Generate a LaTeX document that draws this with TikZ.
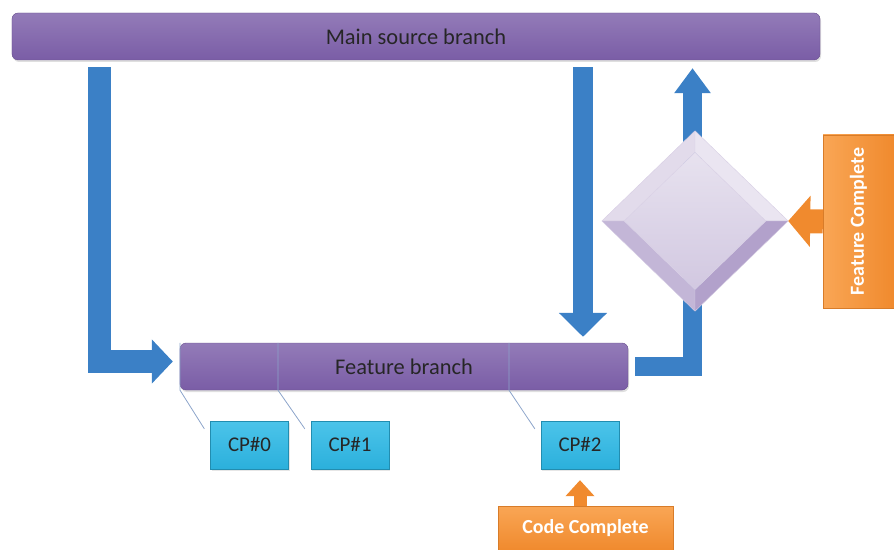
\documentclass[tikz,border=0pt]{standalone}
\usepackage{fontspec}
\setmainfont{Carlito}
\usetikzlibrary{arrows.meta,shapes.geometric,calc,shadows}

\definecolor{bartop}{HTML}{937BB8}
\definecolor{barbottom}{HTML}{7A5DA6}
\definecolor{flowblue}{HTML}{3B80C6}
\definecolor{cptop}{HTML}{4CC4EA}
\definecolor{cpbottom}{HTML}{2BB0DC}
\definecolor{notetop}{HTML}{F9A655}
\definecolor{notebottom}{HTML}{F08A2E}
\definecolor{leadercol}{HTML}{8CA4CA}

\begin{document}
\begin{tikzpicture}[x=1bp, y=-1bp,
  branchbar/.style={rounded corners=6bp, top color=bartop, bottom color=barbottom,
    draw=barbottom!85!black, line width=0.4bp, minimum height=47bp, inner sep=0pt,
    font=\fontsize{22.5}{26}\selectfont, text=black!85,
    drop shadow={opacity=0.25, shadow xshift=1bp, shadow yshift=-2bp}},
  cpbox/.style={top color=cptop, bottom color=cpbottom, draw=cpbottom!80!black, line width=0.3bp,
    minimum width=78bp, minimum height=48bp, inner sep=0pt,
    font=\fontsize{21}{24}\selectfont, text=black!85,
    drop shadow={opacity=0.2, shadow xshift=1bp, shadow yshift=-2bp}},
  notebox/.style={draw=notebottom!90!black, line width=0.3bp, inner sep=0pt,
    font=\bfseries\fontsize{20}{24}\selectfont, text=white},
  flowarrow/.style={draw=flowblue, line width=21bp, line join=miter},
  notearrow/.style={draw=notebottom, line width=#1, line join=miter},
  leader/.style={draw=leadercol, line width=0.8bp},
  bevel/.style={draw=white!70!barbottom, line width=0.4bp, line join=round}]
  \useasboundingbox (0,0) rectangle (894,550);

  % Branches
  \node[branchbar, minimum width=808bp] (main) at (416,36.5) {Main source branch};
  \node[branchbar, minimum width=448bp] (feat) at (404,366.5) {Feature branch};

  % Arrow columns
  \coordinate (xl) at (99.5,0);
  \coordinate (xm) at (583,0);
  \coordinate (xr) at (692.5,0);

  % Branch off, merge down, merge back up
  \draw[flowarrow, line width=23bp, shorten <=7bp, shorten >=7bp, -{Triangle[length=21bp, width=43bp]}]
    (main.south -| xl) |- ([yshift=5bp]feat.west);
  \draw[flowarrow, line width=20bp, shorten <=7bp, shorten >=6bp, -{Triangle[length=24bp, width=47bp]}]
    (main.south -| xm) -- (feat.north -| xm);
  \draw[flowarrow, line width=19bp, shorten <=7bp, shorten >=8bp, -{Triangle[length=25bp, width=35bp]}]
    (feat.east) -| (main.south -| xr);

  % Gate (bevelled diamond)
  \node[diamond, minimum width=186bp, minimum height=180bp, inner sep=0pt] (gate) at (695,221) {};
  \coordinate (in) at ($(gate.north)!0.24!(gate.center)$);
  \coordinate (ie) at ($(gate.east)!0.24!(gate.center)$);
  \coordinate (is) at ($(gate.south)!0.24!(gate.center)$);
  \coordinate (iw) at ($(gate.west)!0.24!(gate.center)$);
  \fill[white!78!barbottom] (gate.north) -- (gate.west) -- (iw) -- (in) -- cycle;
  \fill[white!84!barbottom] (gate.north) -- (gate.east) -- (ie) -- (in) -- cycle;
  \fill[white!55!barbottom] (gate.west) -- (gate.south) -- (is) -- (iw) -- cycle;
  \fill[white!42!barbottom] (gate.east) -- (gate.south) -- (is) -- (ie) -- cycle;
  \shade[top color=white!82!barbottom, bottom color=white!66!barbottom] (in) -- (ie) -- (is) -- (iw) -- cycle;
  \draw[bevel] (gate.north) -- (gate.east) -- (gate.south) -- (gate.west) -- cycle;
  \draw[bevel] (in) -- (ie) -- (is) -- (iw) -- cycle;
  \draw[bevel] (gate.north) -- (in) (gate.east) -- (ie) (gate.south) -- (is) (gate.west) -- (iw);

  % Check points
  \node[cpbox] (cp0) at (249.5,445) {CP\#0};
  \node[cpbox] (cp1) at (350,445) {CP\#1};
  \node[cpbox] (cp2) at (580,445) {CP\#2};
  \coordinate (t0) at (180,0);
  \coordinate (t1) at (278,0);
  \coordinate (t2) at (509,0);
  \draw[leader] ([xshift=-6bp, yshift=-8bp]cp0.north west) -- (feat.south -| t0) -- (feat.north -| t0);
  \draw[leader] ([xshift=-6bp, yshift=-8bp]cp1.north west) -- (feat.south -| t1) -- (feat.north -| t1);
  \draw[leader] ([xshift=-6bp, yshift=-8bp]cp2.north west) -- (feat.south -| t2) -- (feat.north -| t2);

  % Milestones
  \node[notebox, left color=notetop, right color=notebottom, minimum width=71bp, minimum height=173bp]
    (fc) at (858.5,221.5) {\rotatebox{90}{Feature Complete}};
  \node[notebox, top color=notetop, bottom color=notebottom, minimum width=175bp, minimum height=44bp]
    (cc) at (585.5,528) {Code Complete};
  \draw[notearrow=24bp, -{Triangle[length=22bp, width=50bp]}] (fc.west) -- (gate.east);
  \draw[notearrow=13bp, shorten >=11bp, -{Triangle[length=16bp, width=28bp]}] (cc.north -| cp2) -- (cp2.south);
\end{tikzpicture}
\end{document}
